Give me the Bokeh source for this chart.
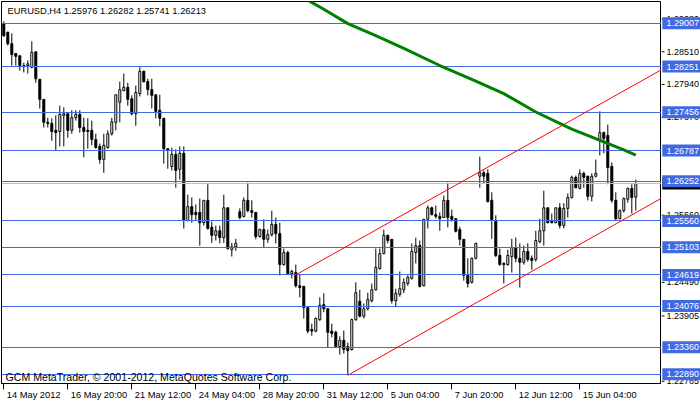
from bokeh.plotting import figure
from bokeh.layouts import row
from bokeh.models import Range1d, FixedTicker, Label, LinearAxis
from bokeh.embed import file_html
from bokeh.resources import INLINE
from bokeh.core.properties import value

# ---- EURUSD H4 candles (bar index 0 = 14 May 2012) ----
open_ = [1.2900, 1.2885, 1.2865, 1.2848, 1.2844, 1.2825, 1.2827, 1.2824, 1.2851, 1.2803,
         1.2768, 1.2728, 1.2726, 1.2714, 1.2712, 1.2740, 1.2743, 1.2714, 1.2736, 1.2742,
         1.2719, 1.2714, 1.2714, 1.2698, 1.2686, 1.2663, 1.2684, 1.2708, 1.2728, 1.2763,
         1.2783, 1.2789, 1.2769, 1.2743, 1.2778, 1.2817, 1.2799, 1.2785, 1.2776, 1.2749,
         1.2735, 1.2682, 1.2651, 1.2672, 1.2646, 1.2674, 1.2557, 1.2581, 1.2571, 1.2571,
         1.2553, 1.2592, 1.2545, 1.2531, 1.2539, 1.2527, 1.2579, 1.2506, 1.2511, 1.2572,
         1.2564, 1.2592, 1.2574, 1.2571, 1.2529, 1.2541, 1.2524, 1.2532, 1.2550, 1.2534,
         1.2480, 1.2501, 1.2464, 1.2466, 1.2443, 1.2442, 1.2405, 1.2367, 1.2364, 1.2384,
         1.2410, 1.2403, 1.2364, 1.2362, 1.2337, 1.2348, 1.2337, 1.2332, 1.2384, 1.2416,
         1.2390, 1.2403, 1.2417, 1.2436, 1.2473, 1.2499, 1.2531, 1.2524, 1.2417, 1.2428,
         1.2436, 1.2447, 1.2456, 1.2501, 1.2513, 1.2443, 1.2559, 1.2579, 1.2567, 1.2564,
         1.2562, 1.2592, 1.2564, 1.2560, 1.2541, 1.2524, 1.2461, 1.2449, 1.2491, 1.2634,
         1.2640, 1.2639, 1.2592, 1.2557, 1.2496, 1.2482, 1.2480, 1.2494, 1.2510, 1.2491,
         1.2484, 1.2503, 1.2491, 1.2489, 1.2520, 1.2539, 1.2579, 1.2557, 1.2553, 1.2579,
         1.2548, 1.2578, 1.2597, 1.2632, 1.2613, 1.2639, 1.2634, 1.2599, 1.2634, 1.2696,
         1.2710, 1.2705, 1.2651, 1.2592, 1.2560, 1.2574, 1.2594, 1.2613, 1.25976]
high = [1.2904, 1.2886, 1.2883, 1.2848, 1.2844, 1.2832, 1.2836, 1.2869, 1.2851, 1.2803,
        1.2768, 1.2736, 1.2735, 1.2740, 1.2757, 1.2754, 1.2743, 1.2749, 1.2749, 1.2749,
        1.2736, 1.2735, 1.2731, 1.2708, 1.2691, 1.2708, 1.2714, 1.2736, 1.2776, 1.2799,
        1.2813, 1.2797, 1.2775, 1.2792, 1.2824, 1.2818, 1.2804, 1.2804, 1.2776, 1.2776,
        1.2735, 1.2682, 1.2684, 1.2681, 1.2686, 1.2686, 1.2602, 1.2597, 1.2585, 1.2595,
        1.2592, 1.2620, 1.2555, 1.2548, 1.2548, 1.2602, 1.2579, 1.2518, 1.2525, 1.2578,
        1.2597, 1.2623, 1.2592, 1.2571, 1.2543, 1.2559, 1.2541, 1.2574, 1.2562, 1.2553,
        1.2508, 1.2504, 1.2471, 1.2480, 1.2463, 1.2443, 1.2405, 1.2377, 1.2388, 1.2423,
        1.2430, 1.2403, 1.2377, 1.2365, 1.2355, 1.2365, 1.2344, 1.2386, 1.2449, 1.2436,
        1.2412, 1.2431, 1.2447, 1.2508, 1.2508, 1.2541, 1.2532, 1.2524, 1.2438, 1.2468,
        1.2456, 1.2461, 1.2517, 1.2527, 1.2522, 1.2559, 1.2583, 1.2581, 1.2583, 1.2571,
        1.2600, 1.2623, 1.2576, 1.2560, 1.2546, 1.2524, 1.2491, 1.2492, 1.2518, 1.2668,
        1.2644, 1.2646, 1.2606, 1.2566, 1.2508, 1.2484, 1.2506, 1.2525, 1.2527, 1.2517,
        1.2513, 1.2517, 1.2496, 1.2539, 1.2560, 1.2609, 1.2579, 1.2569, 1.2579, 1.2587,
        1.2587, 1.2604, 1.2635, 1.2635, 1.2646, 1.2642, 1.2635, 1.2639, 1.2663, 1.2747,
        1.2712, 1.2724, 1.2658, 1.2606, 1.2576, 1.2597, 1.2614, 1.2620, 1.26282]
low = [1.2877, 1.2862, 1.2827, 1.2827, 1.2818, 1.2815, 1.2813, 1.2822, 1.2797, 1.2752,
       1.2719, 1.2719, 1.2696, 1.2679, 1.2686, 1.2686, 1.2701, 1.2708, 1.2731, 1.2710,
       1.2667, 1.2682, 1.2688, 1.2682, 1.2656, 1.2640, 1.2682, 1.2705, 1.2714, 1.2728,
       1.2783, 1.2757, 1.2740, 1.2722, 1.2773, 1.2797, 1.2775, 1.2752, 1.2735, 1.2721,
       1.2656, 1.2647, 1.2644, 1.2614, 1.2628, 1.2543, 1.2555, 1.2553, 1.2557, 1.2513,
       1.2548, 1.2541, 1.2518, 1.2522, 1.2517, 1.2518, 1.2506, 1.2494, 1.2504, 1.2559,
       1.2562, 1.2571, 1.2562, 1.2524, 1.2527, 1.2510, 1.2518, 1.2529, 1.2517, 1.2461,
       1.2478, 1.2463, 1.2456, 1.2440, 1.2423, 1.2386, 1.2360, 1.2356, 1.2362, 1.2382,
       1.2397, 1.2335, 1.2353, 1.2335, 1.2323, 1.2325, 1.2287, 1.2330, 1.2382, 1.2388,
       1.2386, 1.2400, 1.2414, 1.2435, 1.2471, 1.2498, 1.2517, 1.2412, 1.2407, 1.2424,
       1.2430, 1.2443, 1.2454, 1.2482, 1.2440, 1.2442, 1.2543, 1.2566, 1.2560, 1.2539,
       1.2562, 1.2545, 1.2555, 1.2536, 1.2513, 1.2452, 1.2440, 1.2447, 1.2489, 1.2614,
       1.2621, 1.2588, 1.2525, 1.2493, 1.2478, 1.2447, 1.2478, 1.2466, 1.2484, 1.2440,
       1.2480, 1.2485, 1.2471, 1.2485, 1.2517, 1.2513, 1.2552, 1.2552, 1.2552, 1.2543,
       1.2543, 1.2562, 1.2595, 1.2613, 1.2611, 1.2614, 1.2592, 1.2590, 1.2632, 1.2670,
       1.2674, 1.2620, 1.2588, 1.2557, 1.2559, 1.2571, 1.2588, 1.2569, 1.25741]
close = [1.2879, 1.2865, 1.2846, 1.2843, 1.2827, 1.2827, 1.2830, 1.2850, 1.2804, 1.2768,
         1.2728, 1.2726, 1.2712, 1.2710, 1.2742, 1.2743, 1.2714, 1.2736, 1.2742, 1.2719,
         1.2712, 1.2712, 1.2698, 1.2684, 1.2663, 1.2688, 1.2708, 1.2729, 1.2776, 1.2785,
         1.2789, 1.2768, 1.2743, 1.2780, 1.2817, 1.2799, 1.2785, 1.2775, 1.2747, 1.2735,
         1.2682, 1.2679, 1.2672, 1.2644, 1.2674, 1.2557, 1.2581, 1.2567, 1.2567, 1.2553,
         1.2592, 1.2543, 1.2531, 1.2539, 1.2527, 1.2579, 1.2508, 1.2511, 1.2517, 1.2562,
         1.2592, 1.2574, 1.2571, 1.2529, 1.2541, 1.2524, 1.2532, 1.2550, 1.2534, 1.2480,
         1.2501, 1.2464, 1.2468, 1.2443, 1.2440, 1.2405, 1.2364, 1.2364, 1.2386, 1.2409,
         1.2403, 1.2362, 1.2360, 1.2337, 1.2348, 1.2332, 1.2330, 1.2384, 1.2431, 1.2390,
         1.2403, 1.2419, 1.2436, 1.2475, 1.2499, 1.2531, 1.2522, 1.2417, 1.2430, 1.2438,
         1.2449, 1.2458, 1.2503, 1.2513, 1.2442, 1.2559, 1.2579, 1.2567, 1.2564, 1.2560,
         1.2592, 1.2562, 1.2559, 1.2538, 1.2524, 1.2461, 1.2447, 1.2491, 1.2517, 1.2640,
         1.2634, 1.2590, 1.2557, 1.2496, 1.2480, 1.2480, 1.2496, 1.2510, 1.2491, 1.2484,
         1.2503, 1.2489, 1.2487, 1.2522, 1.2539, 1.2579, 1.2553, 1.2553, 1.2579, 1.2548,
         1.2578, 1.2597, 1.2632, 1.2614, 1.2639, 1.2632, 1.2599, 1.2634, 1.2639, 1.2710,
         1.2700, 1.2649, 1.2592, 1.2560, 1.2574, 1.2595, 1.2613, 1.2597, 1.26213]

# horizontal price levels (blue lines with labels on the price scale)
levels = [1.29007, 1.28251, 1.27456, 1.26787, 1.26252, 1.25560,
          1.25103, 1.24619, 1.24076, 1.23360, 1.22890]
bid = 1.26213

# price scale tick labels (visible ones)
price_ticks = [1.29080, 1.28510, 1.27940, 1.27370, 1.25660, 1.24490, 1.23905, 1.22765]

# time scale
date_tick_bars = [0, 16, 32, 48, 64, 80, 96, 112, 128, 144]
date_labels = ["14 May 2012", "16 May 20:00", "21 May 12:00", "24 May 04:00",
               "28 May 20:00", "31 May 12:00", "5 Jun 04:00", "7 Jun 20:00",
               "12 Jun 12:00", "15 Jun 04:00"]

# moving average (green)
ma_bars = [76, 80, 86, 93, 100, 109, 117, 125, 133, 142, 150, 155, 158]
ma_vals = [1.2941, 1.2925, 1.2900, 1.2879, 1.2857, 1.2827, 1.2803, 1.2778,
           1.2746, 1.2716, 1.2694, 1.2680, 1.2671]

# equidistant channel (red)
chan_up_bars = [73, 165]
chan_up_vals = [1.2462, 1.2822]
chan_lo_bars = [86, 165]
chan_lo_vals = [1.2287, 1.2598]

title_text = "EURUSD,H4  1.25976 1.26282 1.25741 1.26213"
copyright_text = "GCM MetaTrader, \u00a9 2001-2012, MetaQuotes Software Corp."

FONT = "Liberation Sans"
BLUE = "#4169E1"
LBL_SIZE = 9.3

FRAME_W, FRAME_H = 660, 382
SCALE_W = 39
x_start, x_end = -0.575, 164.425
y_start, y_end = 1.22727, 1.29386
px_per_bar = FRAME_W / (x_end - x_start)

p = figure(frame_width=FRAME_W, frame_height=FRAME_H, output_backend="svg",
           toolbar_location=None,
           x_range=Range1d(x_start, x_end), y_range=Range1d(y_start, y_end),
           y_axis_location=None,
           min_border_left=1, min_border_top=1, min_border_right=0, min_border_bottom=0)
p.grid.visible = False
p.outline_line_color = "black"
p.outline_line_width = 1
p.background_fill_color = "white"
p.border_fill_color = "white"

# x axis: tick marks only, at the bars (its labels are not drawn)
xa = p.xaxis[0]
xa.ticker = FixedTicker(ticks=date_tick_bars)
xa.major_tick_out = 6
xa.major_tick_in = 0
xa.minor_tick_line_color = None
xa.axis_line_color = "black"
xa.major_label_text_font_size = "1px"
xa.major_label_text_color = None
xa.major_label_text_alpha = 0
xa.major_label_standoff = 0

# second axis carries the labels, set to start just right of each tick
char_w = {" ": 0.278, ":": 0.278, "M": 0.833, "J": 0.5, "y": 0.5}
def text_width(s, size):
    return size * sum(char_w.get(ch, 0.556) for ch in s)
label_pos = [round(b + (3 + text_width(t, LBL_SIZE) / 2) / px_per_bar, 3)
             for b, t in zip(date_tick_bars, date_labels)]
xa2 = LinearAxis(ticker=FixedTicker(ticks=label_pos),
                 major_label_overrides={pos: t for pos, t in zip(label_pos, date_labels)})
xa2.major_tick_line_color = None
xa2.minor_tick_line_color = None
xa2.axis_line_color = None
xa2.major_tick_out = 0
xa2.major_tick_in = 0
xa2.major_label_standoff = 0
xa2.major_label_text_font = FONT
xa2.major_label_text_font_size = f"{LBL_SIZE}px"
xa2.major_label_text_color = "black"
p.add_layout(xa2, "below")

# candles
bars = list(range(len(open_)))
tops = [max(o, c) for o, c in zip(open_, close)]
bots = [min(o, c) for o, c in zip(open_, close)]
fills = ["white" if c >= o else "black" for o, c in zip(open_, close)]
p.segment(x0=bars, y0=low, x1=bars, y1=high, line_color="black", line_width=1)
p.vbar(x=bars, top=tops, bottom=bots, width=0.5, fill_color=fills,
       line_color="black", line_width=1)

# horizontal lines
p.hspan(y=levels, line_color=BLUE, line_width=1)
p.hspan(y=[bid], line_color="#C0C0C0", line_width=1)

# channel and MA
p.line(chan_up_bars, chan_up_vals, line_color="red", line_width=1)
p.line(chan_lo_bars, chan_lo_vals, line_color="red", line_width=1)
p.line(ma_bars, ma_vals, line_color="#008000", line_width=3)

# title and copyright
p.add_layout(Label(x=x_start, y=y_end, text=title_text, x_offset=6, y_offset=-4,
                   text_align="left", text_baseline="top",
                   text_font=FONT, text_font_size=f"{LBL_SIZE}px", text_color="black"))
p.add_layout(Label(x=x_start, y=y_start, text=copyright_text, x_offset=4, y_offset=1,
                   text_align="left", text_baseline="bottom",
                   text_font=FONT, text_font_size="10.6px", text_color="black"))

# ---- price scale (right) sharing the same price-per-pixel ----
SCALE_H = FRAME_H + 18
y_start_scale = y_start - (SCALE_H - FRAME_H) * (y_end - y_start) / FRAME_H
s = figure(frame_width=SCALE_W, frame_height=SCALE_H, output_backend="svg",
           toolbar_location=None,
           x_range=Range1d(0, SCALE_W), y_range=Range1d(y_start_scale, y_end),
           x_axis_location=None, y_axis_location=None,
           min_border_left=0, min_border_top=1, min_border_right=0, min_border_bottom=0)
s.grid.visible = False
s.outline_line_color = None
s.background_fill_color = "white"
s.border_fill_color = "white"

tick_txt = ["%.5f" % t for t in price_ticks]
s.segment(x0=0, x1=3, y0=price_ticks, y1=price_ticks, line_color="black", line_width=1)
s.text(x=5, y=price_ticks, text=tick_txt, text_align="left", text_baseline="middle",
       text_font=value(FONT), text_font_size="9px", text_color="black")

s.rect(x=SCALE_W / 2 + 0.4, y=[bid], width=SCALE_W - 0.8, height=12, height_units="screen",
       fill_color="black", line_color=None)
s.text(x=5, y=[bid], text=["%.5f" % bid], text_align="left", text_baseline="middle",
       text_font=value(FONT), text_font_size="9px", text_color="white")

lvl_txt = ["%.5f" % lv for lv in levels]
s.rect(x=SCALE_W / 2 + 0.4, y=levels, width=SCALE_W - 0.8, height=12, height_units="screen",
       fill_color=BLUE, line_color=None)
s.text(x=5, y=levels, text=lvl_txt, text_align="left", text_baseline="middle",
       text_font=value(FONT), text_font_size="9px", text_color="white")

layout = row(p, s)
open("out.html", "w").write(file_html(layout, INLINE))
